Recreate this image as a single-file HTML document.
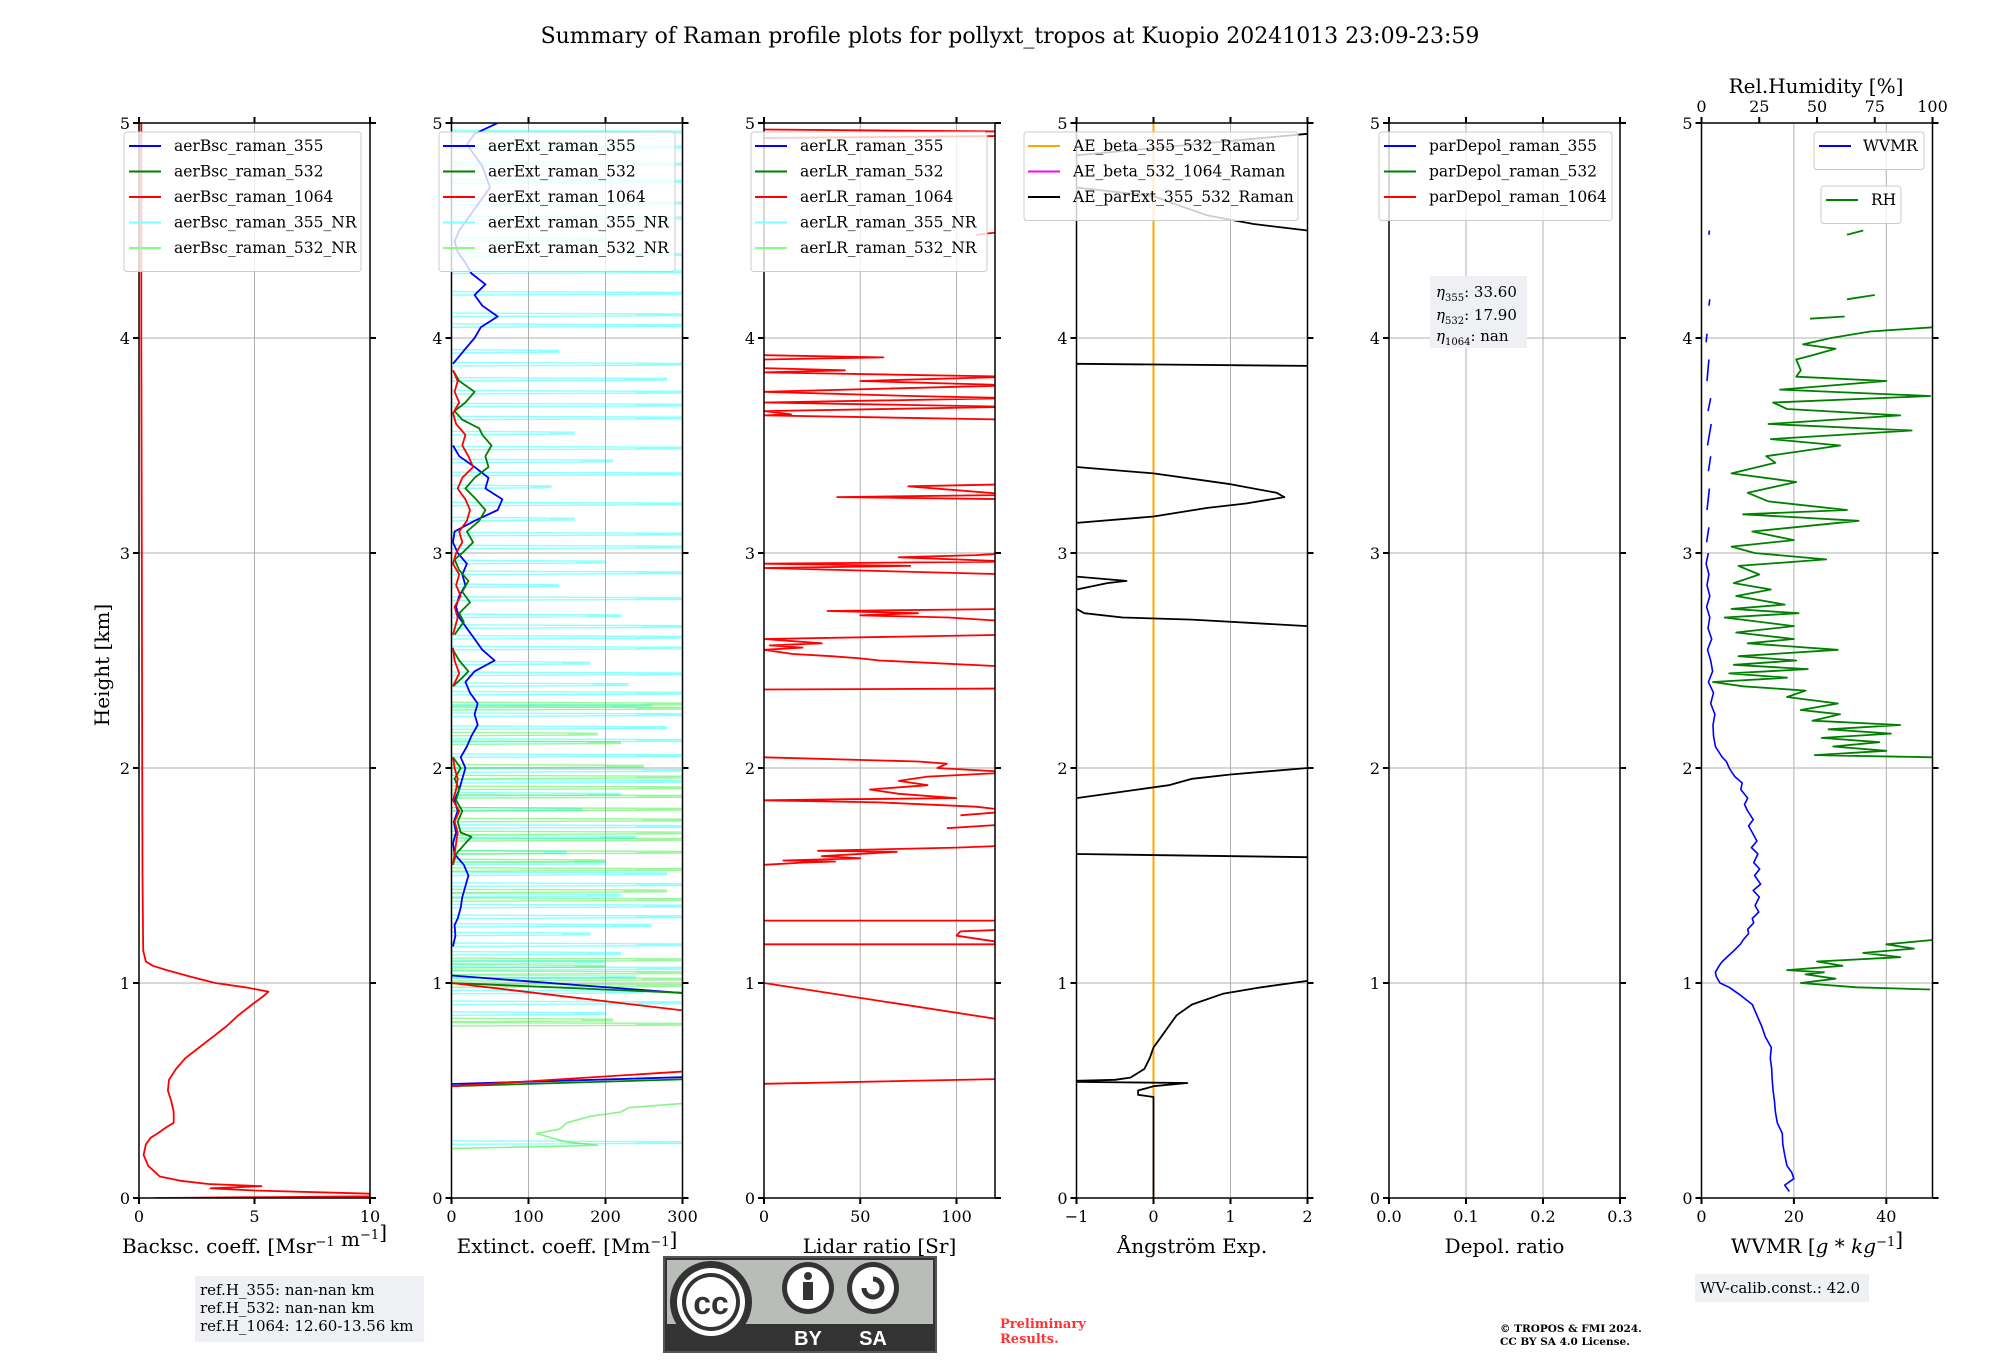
<!DOCTYPE html>
<html><head><meta charset="utf-8">
<style>
html,body{margin:0;padding:0;background:#fff;}
svg{display:block;font-family:"DejaVu Serif","Liberation Serif",serif;}
</style></head>
<body>
<svg id="fig" width="2000" height="1360" viewBox="0 0 2000 1360" xmlns="http://www.w3.org/2000/svg">
<text x="1010" y="43" font-size="22" text-anchor="middle">Summary of Raman profile plots for pollyxt_tropos at Kuopio 20241013 23:09-23:59</text>
<g id="plots"></g>
<g id="overlay"></g>
</svg>
<script>
// ---------- data ----------
const bsc1064 = [[0,0.7],[0.008,10],[0.02,10],[0.035,5],[0.045,3.1],[0.055,5.3],[0.065,3],[0.08,1.8],[0.1,0.9],[0.15,0.4],[0.2,0.2],[0.25,0.3],[0.28,0.5],[0.3,0.8],[0.33,1.2],[0.35,1.5],[0.4,1.5],[0.45,1.4],[0.5,1.25],[0.55,1.3],[0.6,1.6],[0.65,2.0],[0.7,2.6],[0.75,3.2],[0.8,3.8],[0.85,4.3],[0.9,4.9],[0.94,5.4],[0.96,5.6],[0.98,4.6],[1.0,3.3],[1.03,2.2],[1.06,1.2],[1.08,0.6],[1.1,0.3],[1.15,0.18],[1.5,0.15],[2,0.14],[3,0.12],[4,0.1],[5,0.1]];

const ext355 = [[0.53,0],[0.565,330],null,[1.035,0],[0.945,330],null,[1.17,2],[1.22,5],[1.27,4],[1.3,8],[1.35,12],[1.4,14],[1.45,18],[1.5,22],[1.55,16],[1.6,4],[1.65,2],[1.7,6],[1.75,3],[1.8,8],[1.85,4],[1.9,10],[1.95,14],[2.0,18],[2.05,12],[2.1,20],[2.15,26],[2.2,34],[2.25,30],[2.3,34],[2.35,24],[2.4,18],[2.45,30],[2.5,56],[2.55,40],[2.6,30],[2.65,20],[2.7,10],[2.75,6],[2.8,10],[2.85,18],[2.9,14],[2.95,20],[3.0,8],[3.05,2],[3.1,4],[3.15,30],[3.2,60],[3.25,66],[3.3,44],[3.35,48],[3.4,30],[3.45,10],[3.5,2],null,[3.88,2],[3.95,18],[4.0,30],[4.05,38],[4.1,60],[4.15,40],[4.2,30],[4.25,44],[4.3,26],[4.35,18],[4.4,8],[4.45,4],[4.5,10],[4.6,30],[4.7,50],[4.8,40],[4.9,20],[4.95,30],[5.0,60]];
const ext532 = [[0.52,0],[0.555,330],null,[1.0,0],[0.95,330],null,[1.55,2],[1.6,6],[1.65,18],[1.68,26],[1.7,12],[1.75,8],[1.8,14],[1.85,6],[1.9,10],[1.95,4],[2.0,12],[2.05,2],null,[2.38,2],[2.42,14],[2.45,22],[2.5,10],[2.55,2],null,[2.62,4],[2.68,16],[2.72,10],[2.77,24],[2.82,14],[2.87,22],[2.92,10],[2.97,4],[3.0,14],[3.05,28],[3.1,20],[3.15,36],[3.2,44],[3.25,32],[3.3,18],[3.35,30],[3.4,48],[3.45,44],[3.5,52],[3.55,40],[3.58,36],[3.62,14],[3.66,4],[3.7,18],[3.75,30],[3.8,10],[3.85,2]];
const ext1064 = [[0.52,0],[0.595,330],null,[1.0,0],[0.86,330],null,[1.55,2],[1.6,4],[1.65,6],[1.7,8],[1.75,4],[1.8,10],[1.85,2],[1.9,6],[1.95,8],[2.0,4],[2.05,2],null,[2.38,2],[2.44,10],[2.5,4],[2.56,2],null,[2.62,2],[2.7,8],[2.75,4],[2.8,12],[2.85,6],[2.9,10],[2.95,2],[3.0,6],[3.05,14],[3.1,10],[3.15,20],[3.2,24],[3.25,18],[3.3,8],[3.35,14],[3.4,28],[3.45,22],[3.5,14],[3.55,18],[3.6,6],[3.65,2],[3.7,10],[3.75,4],[3.8,8],[3.85,2]];
const cyanSpikeH = [0.25,0.85,0.9,0.95,1.02,1.06,1.09,1.13,1.17,1.22,1.26,1.3,1.35,1.4,1.45,1.5,1.55,1.6,1.67,1.72,1.8,1.87,1.93,1.98,2.05,2.12,2.18,2.24,2.28,2.34,2.38,2.43,2.48,2.55,2.6,2.65,2.7,2.78,2.84,2.9,2.95,3.02,3.08,3.15,3.22,3.3,3.36,3.42,3.48,3.55,3.62,3.68,3.74,3.8,3.87,3.93,4.05,4.1,4.2,4.3,4.38,4.45,4.55,4.62,4.72,4.8,4.88,4.95];
const cyanSpikeV = [300,200,300,250,240,300,200,220,300,180,260,300,310,220,300,280,200,150,240,300,170,220,300,310,300,300,280,300,260,300,230,300,180,300,300,310,220,300,140,300,200,300,300,160,300,130,300,210,300,160,300,300,300,280,300,140,300,300,300,300,300,200,300,300,300,300,300,300];
const greenSpikeH = [0.8,0.82,0.98,1.01,1.04,1.07,1.1,1.38,1.42,1.52,1.56,1.6,1.66,1.69,1.75,1.8,1.86,1.9,1.95,2.0,2.11,2.15,2.27,2.29];
const greenSpikeV = [300,210,300,310,300,200,300,300,280,300,200,300,300,300,310,300,300,300,300,250,220,190,300,310];
const ext532nr = [[0.23,0],[0.245,190],[0.26,150],[0.28,130],[0.3,110],[0.32,140],[0.35,150],[0.38,180],[0.4,220],[0.42,230],[0.44,300]];

const lr1064 = [[0.53,-5],[0.555,130],null,[1.0,0],[0.82,130],null,[1.18,-5],[1.18,130],[1.22,100],[1.24,102],[1.25,130],null,[1.29,-5],[1.29,130],null,[1.55,0],[1.56,20],[1.565,37],[1.57,10],[1.58,50],[1.59,30],[1.61,69],[1.615,28],[1.63,100],[1.64,130],null,[1.72,95],[1.74,130],null,[1.78,102],[1.8,130],[1.82,110],[1.84,60],[1.85,0],[1.855,45],[1.86,100],[1.88,70],[1.9,55],[1.92,85],[1.94,70],[1.96,85],[1.98,130],[2.0,90],[2.02,95],[2.03,80],[2.05,0],null,[2.365,0],[2.37,130],null,[2.47,130],[2.5,60],[2.51,50],[2.52,35],[2.53,15],[2.55,0],[2.56,20],[2.57,3],[2.58,30],[2.6,0],[2.62,130],null,[2.68,130],[2.7,96],[2.71,50],[2.72,80],[2.73,33],[2.74,130],null,[2.9,130],[2.93,0],[2.94,76],[2.95,0],[2.96,130],[2.98,70],[2.99,110],[3.0,130],null,[3.25,130],[3.26,38],[3.27,130],[3.31,75],[3.32,130],null,[3.62,130],[3.64,0],[3.645,14],[3.66,0],[3.68,130],[3.7,0],[3.72,130],[3.73,77],[3.75,0],[3.78,130],[3.8,50],[3.82,130],[3.84,0],[3.85,42],[3.86,0],[3.9,0],[3.91,62],[3.92,0],null,[4.48,110],[4.5,130],null,[4.93,0],[4.94,130],[4.96,130],[4.97,0]];

const aeParExt = [[0,0],[0.47,0],[0.48,-0.2],[0.5,-0.2],[0.52,0],[0.535,0.44],[0.54,-1],null,[0.545,-1],[0.55,-0.5],[0.56,-0.3],[0.6,-0.12],[0.65,-0.05],[0.7,0],[0.75,0.1],[0.8,0.2],[0.85,0.3],[0.9,0.5],[0.95,0.9],[0.98,1.4],[1.01,2.0],null,[1.6,-1],[1.585,2],null,[1.86,-1],[1.9,-0.2],[1.92,0.2],[1.95,0.5],[1.97,1],[2.0,2],null,[2.74,-1],[2.72,-0.9],[2.7,-0.4],[2.69,0.5],[2.66,2],null,[2.83,-1],[2.86,-0.6],[2.87,-0.35],[2.89,-1],null,[3.14,-1],[3.17,0],[3.21,0.7],[3.23,1.2],[3.26,1.7],[3.28,1.6],[3.32,1.0],[3.37,0],[3.4,-1],null,[3.88,-1],[3.87,2],null,[4.5,2],[4.53,1.3],[4.57,0.7],[4.62,0.3],[4.66,0],[4.7,-1],null,[4.85,-1],[4.95,2]];

const wvmr = [[0.03,19],[0.06,18],[0.09,20],[0.12,19.5],[0.15,18.5],[0.2,18],[0.25,17.6],[0.3,17.5],[0.35,16.4],[0.4,16],[0.45,15.8],[0.5,15.5],[0.55,15.3],[0.6,15.2],[0.65,14.9],[0.7,15.1],[0.75,13.8],[0.8,13],[0.85,12],[0.9,11],[0.95,8],[0.98,6],[1.0,4],[1.03,3.2],[1.05,3],[1.08,3.8],[1.1,4.5],[1.13,6],[1.15,7],[1.18,8.4],[1.2,9],[1.23,10.2],[1.25,10],[1.28,11.3],[1.3,11],[1.33,12.4],[1.36,11.6],[1.4,12.5],[1.43,11.2],[1.46,12.8],[1.5,11.5],[1.53,12.6],[1.56,11.3],[1.6,12.2],[1.63,10.8],[1.66,12],[1.7,11],[1.73,10.2],[1.76,11.2],[1.8,10],[1.83,9.3],[1.86,10],[1.9,8.5],[1.93,8.8],[1.96,7.2],[2.0,6],[2.03,5.4],[2.05,4.5],[2.08,3.6],[2.1,3],[2.15,2.6],[2.2,2.5],[2.25,2.9],[2.3,2],[2.35,2.6],[2.4,1.5],[2.45,2.4],[2.5,2],[2.55,1.3],[2.6,2.2],[2.65,1.4],[2.7,1.8],[2.75,1.1],[2.8,1.8],[2.85,1.2],[2.9,1.6],[2.95,1],[3.0,1.5],null,[3.05,1.1],[3.12,1.6],null,[3.2,1.2],[3.3,1.7],null,[3.38,1.5],[3.45,2],null,[3.5,1.3],[3.6,2.1],null,[3.66,1.4],[3.72,2],null,[3.8,1.2],[3.9,1.6],null,[3.98,1],[4.02,1.2],null,[4.15,1.6],[4.18,1.8],null,[4.48,1.6],[4.5,1.7]];
const rh = [[0.97,99],[0.98,67],[1.0,43],[1.02,58],[1.04,45],[1.05,53],[1.06,37],[1.08,61],[1.1,50],[1.12,86],[1.14,70],[1.16,92],[1.18,80],[1.2,100],null,[2.05,100],[2.06,49],[2.08,80],[2.1,57],[2.12,77],[2.14,52],[2.16,82],[2.18,55],[2.2,86],[2.22,48],[2.25,60],[2.27,43],[2.3,59],[2.33,37],[2.36,45],[2.38,18],[2.4,5],[2.42,37],[2.44,12],[2.46,46],[2.48,14],[2.5,41],[2.52,16],[2.55,59],[2.58,20],[2.6,40],[2.63,15],[2.66,40],[2.7,10],[2.72,42],[2.74,13],[2.76,36],[2.8,15],[2.83,30],[2.86,14],[2.9,25],[2.94,16],[2.97,54],[3.0,23],[3.03,13],[3.06,40],[3.1,22],[3.15,68],[3.18,18],[3.2,63],[3.24,29],[3.28,20],[3.33,41],[3.37,13],[3.42,32],[3.45,28],[3.5,60],[3.53,30],[3.57,91],[3.6,29],[3.64,86],[3.67,37],[3.7,31],[3.73,99],[3.76,34],[3.8,80],[3.82,41],[3.85,43],[3.9,41],[3.92,48],[3.95,58],[3.97,44],[4.0,56],[4.03,73],[4.05,100],null,[4.09,47],[4.1,62],null,[4.18,63],[4.2,75],null,[4.48,63],[4.5,70]];

const heightTicks = [0,1,2,3,4,5];
const bscTicks = [0,5,10], extTicks = [0,100,200,300], lrTicks = [0,50,100];
const aeTicks = [-1,0,1,2], aeTickLabels = ['\u22121','0','1','2'];
const depTicks = [0,0.1,0.2,0.3], depTickLabels = ['0.0','0.1','0.2','0.3'];
const wvTicks = [0,20,40], rhTicks = [0,25,50,75,100];

// ---------- layout ----------
const NS='http://www.w3.org/2000/svg';
const TOP=123, BOT=1198, W=231, HMAX=5;
const plots=document.getElementById('plots');
function el(tag,attrs,parent,txt){const e=document.createElementNS(NS,tag);for(const k in attrs)e.setAttribute(k,attrs[k]);if(txt!==undefined)e.textContent=txt;(parent||plots).appendChild(e);return e;}
function yS(h){return BOT-(h/HMAX)*(BOT-TOP);}
const panels=[
 {name:'backscatter',min:0,max:10,ticks:bscTicks,labels:bscTicks.map(String),xl:['Backsc. coeff. [Msr',{sup:'\u22121'},' m',{sup:'\u22121'},']']},
 {name:'extinction',min:0,max:300,ticks:extTicks,labels:extTicks.map(String),xl:['Extinct. coeff. [Mm',{sup:'\u22121'},']']},
 {name:'lidar-ratio',min:0,max:120,ticks:lrTicks,labels:lrTicks.map(String),xl:['Lidar ratio [Sr]']},
 {name:'angstrom',min:-1,max:2,ticks:aeTicks,labels:aeTickLabels,xl:['\u00c5ngstr\u00f6m Exp.']},
 {name:'depol',min:0,max:0.3,ticks:depTicks,labels:depTickLabels,xl:['Depol. ratio']},
 {name:'wvmr',min:0,max:50,ticks:wvTicks,labels:wvTicks.map(String),xl:['WVMR [',{it:'g'},' * ',{it:'kg'},{sup:'\u22121'},']']}
];
panels.forEach((p,i)=>{p.L=139+312.5*i;p.x=v=>p.L+(v-p.min)/(p.max-p.min)*W;});

panels.forEach((p,i)=>{
 const g=el('g',{});
 
 
 el('clipPath',{id:'clip'+i},g).appendChild((()=>{const r=document.createElementNS(NS,'rect');r.setAttribute('x',p.L);r.setAttribute('y',TOP);r.setAttribute('width',W);r.setAttribute('height',BOT-TOP);return r;})());
 p.g=g;
 p.ticks.forEach(t=>{const gl=el('line',{x1:p.x(t),x2:p.x(t),y1:TOP,y2:BOT,stroke:'#b0b0b0','stroke-width':1},g);});
 heightTicks.forEach(t=>{const gl=el('line',{x1:p.L,x2:p.L+W,y1:yS(t),y2:yS(t),stroke:'#b0b0b0','stroke-width':1},g);});
 p.plot=el('g',{'clip-path':'url(#clip'+i+')'},g);
});

function path(p,data,color,width,opacity,name){
 let d='',pen=false;
 data.forEach(pt=>{if(pt===null){pen=false;return;}d+=(pen?'L':'M')+p.x(pt[1]).toFixed(1)+' '+yS(pt[0]).toFixed(1);pen=true;});
 const e=el('path',{d:d,fill:'none',stroke:color,'stroke-width':width,'stroke-opacity':opacity,'stroke-linejoin':'round'},p.plot);
 
 
}
function spikes(p,hs,vs,color,name){
 let d='';
 hs.forEach((h,k)=>{d+='M'+p.x(0)+' '+yS(h).toFixed(1)+'L'+p.x(vs[k]).toFixed(1)+' '+yS(h+0.004).toFixed(1)+'L'+p.x(vs[k]*0.8).toFixed(1)+' '+yS(h+0.008).toFixed(1)+'L'+p.x(vs[k]).toFixed(1)+' '+yS(h+0.012).toFixed(1)+'L'+p.x(0)+' '+yS(h+0.016).toFixed(1);});
 const e=el('path',{d:d,fill:'none',stroke:color,'stroke-width':1.4,'stroke-opacity':0.45},p.plot);
 
 
}
path(panels[0],bsc1064,'#ff0000',1.8,1,'aerBsc-1064-line');
spikes(panels[1],cyanSpikeH,cyanSpikeV,'#00ffff','aerExt-355-NR-line');
spikes(panels[1],greenSpikeH,greenSpikeV,'#22ee22','aerExt-532-NR-line');
path(panels[1],ext532nr,'#22ee22',1.6,0.55,'aerExt-532-NR-curve');
path(panels[1],ext355,'#0000ff',1.8,1,'aerExt-355-line');
path(panels[1],ext532,'#008000',1.8,1,'aerExt-532-line');
path(panels[1],ext1064,'#ff0000',1.8,1,'aerExt-1064-line');
path(panels[2],lr1064,'#ff0000',1.8,1,'aerLR-1064-line');
(()=>{const p=panels[3];const e=el('line',{x1:p.x(0),x2:p.x(0),y1:TOP,y2:BOT,stroke:'#ffa500','stroke-width':2},p.plot);})();
path(panels[3],aeParExt,'#000000',1.8,1,'AE-parExt-355-532-line');
path(panels[5],wvmr,'#0000ff',1.6,1,'wvmr-line');
const rhPanel={L:panels[5].L,plot:panels[5].plot,x:v=>panels[5].L+v/100*W};
path(rhPanel,rh,'#008000',1.8,1,'rh-line');

panels.forEach((p,i)=>{
 const g=p.g;
 const fr=el('rect',{x:p.L,y:TOP,width:W,height:BOT-TOP,fill:'none',stroke:'#000','stroke-width':1.5},g);
 
 heightTicks.forEach(t=>{
  el('line',{x1:p.L-6,x2:p.L,y1:yS(t),y2:yS(t),stroke:'#000','stroke-width':2},g);
  el('line',{x1:p.L+W,x2:p.L+W+6,y1:yS(t),y2:yS(t),stroke:'#000','stroke-width':2},g);
  const tl=el('text',{x:p.L-9,y:yS(t)+6,'font-size':16,'text-anchor':'end'},g,String(t));
  
 });
 p.ticks.forEach((t,k)=>{
  el('line',{x1:p.x(t),x2:p.x(t),y1:BOT,y2:BOT+6,stroke:'#000','stroke-width':2},g);
  if(i<5) el('line',{x1:p.x(t),x2:p.x(t),y1:TOP-6,y2:TOP,stroke:'#000','stroke-width':2},g);
  const tl=el('text',{x:p.x(t),y:BOT+24,'font-size':16,'text-anchor':'middle'},g,p.labels[k]);
  
 });
 const xl=el('text',{x:p.L+W/2,y:1253,'font-size':20,'text-anchor':'middle'},g);
 
 p.xl.forEach(part=>{
  const ts=document.createElementNS(NS,'tspan');
  if(typeof part==='string'){ts.textContent=part;}
  else if(part.sup){ts.textContent=part.sup;ts.setAttribute('dy','-7');ts.setAttribute('font-size','13');}
  else if(part.it){ts.textContent=part.it;ts.setAttribute('font-style','italic');}
  xl.appendChild(ts);
  if(part.sup){const r=document.createElementNS(NS,'tspan');r.setAttribute('dy','7');r.textContent='';xl.appendChild(r);}
 });
});
rhTicks.forEach(t=>{
 const x=panels[5].L+t/100*W;
 el('line',{x1:x,x2:x,y1:TOP-6,y2:TOP,stroke:'#000','stroke-width':2});
 const tl=el('text',{x:x,y:112,'font-size':16,'text-anchor':'middle'},plots,String(t));
 
});
(()=>{const t=el('text',{x:1816,y:93,'font-size':20,'text-anchor':'middle'},plots,'Rel.Humidity [%]');})();
(()=>{const t=el('text',{x:0,y:0,'font-size':20,'text-anchor':'middle',transform:'translate(109,665) rotate(-90)'},plots,'Height [km]');})();

function legend(x0,y0,w,entries,name,tx,lx){
 const g=el('g',{});
 
 
 el('rect',{x:x0,y:y0,width:w,height:entries.length*25.5+12,rx:3,fill:'#fff','fill-opacity':0.8,stroke:'#cccccc','stroke-width':1},g);
 entries.forEach((e,k)=>{
  const y=y0+14+k*25.5;
  el('line',{x1:lx,x2:lx+32,y1:y,y2:y,stroke:e[1],'stroke-width':2},g);
  const t=el('text',{x:tx,y:y+5,'font-size':15.5},g,e[0]);
  
 });
}
const leg5=(pre)=>[[pre+'_355','#0000ff'],[pre+'_532','#008000'],[pre+'_1064','#ff0000'],[pre+'_355_NR','#80ffff'],[pre+'_532_NR','#80ff80']];
legend(124,132,237,leg5('aerBsc_raman'),'legend-backscatter',174,129);
legend(439,132,236,leg5('aerExt_raman'),'legend-extinction',488,443);
legend(751,132,236,leg5('aerLR_raman'),'legend-lidar-ratio',800,755);
legend(1024,132,274,[['AE_beta_355_532_Raman','#ffa500'],['AE_beta_532_1064_Raman','#ff00ff'],['AE_parExt_355_532_Raman','#000000']],'legend-angstrom',1073,1028);
legend(1379,132,233,[['parDepol_raman_355','#0000ff'],['parDepol_raman_532','#008000'],['parDepol_raman_1064','#ff0000']],'legend-depol',1429,1384);
legend(1814,132,110,[['WVMR','#0000ff']],'legend-wvmr',1863,1819);
legend(1821,186,80,[['RH','#008000']],'legend-rh',1871,1826);
</script>
<svg x="0" y="0" width="2000" height="1360" style="position:absolute;left:0;top:0" xmlns="http://www.w3.org/2000/svg" font-family="DejaVu Serif, Liberation Serif, serif">
<g>
<rect x="1430" y="276" width="97" height="72" fill="#eef0f4"/>
<text x="1436" y="297" font-size="15"><tspan font-style="italic">η</tspan><tspan font-size="10" dy="4">355</tspan><tspan dy="-4">: 33.60</tspan></text>
<text x="1436" y="320" font-size="15"><tspan font-style="italic">η</tspan><tspan font-size="10" dy="4">532</tspan><tspan dy="-4">: 17.90</tspan></text>
<text x="1436" y="341" font-size="15"><tspan font-style="italic">η</tspan><tspan font-size="10" dy="4">1064</tspan><tspan dy="-4">: nan</tspan></text>
</g>
<g>
<rect x="195" y="1276" width="229" height="66" fill="#eef0f4"/>
<text x="200" y="1295" font-size="15">ref.H_355: nan-nan km</text>
<text x="200" y="1313" font-size="15">ref.H_532: nan-nan km</text>
<text x="200" y="1331" font-size="15">ref.H_1064: 12.60-13.56 km</text>
</g>
<g>
<rect x="664" y="1257" width="272" height="95" fill="#333" stroke="#555" stroke-width="2"/>
<rect x="667" y="1260" width="266" height="64" fill="#b9bdb8"/>
<circle cx="711" cy="1302" r="41" fill="#333"/>
<circle cx="711" cy="1302" r="34" fill="#fff"/>
<circle cx="711" cy="1302" r="29" fill="#333"/>
<circle cx="711" cy="1302" r="25" fill="#fff"/>
<text x="711" y="1314" font-family="Liberation Sans, sans-serif" font-size="32" font-weight="bold" text-anchor="middle" fill="#333">cc</text>
<circle cx="808" cy="1288" r="26" fill="#333"/>
<circle cx="808" cy="1288" r="21" fill="#fff"/>
<circle cx="808" cy="1276" r="4" fill="#333"/>
<rect x="803" y="1282" width="10" height="18" fill="#333"/>
<circle cx="873" cy="1288" r="26" fill="#333"/>
<circle cx="873" cy="1288" r="21" fill="#fff"/>
<path d="M864 1288 a9 9 0 1 0 9 -9" fill="none" stroke="#333" stroke-width="5"/>
<text x="808" y="1345" font-family="Liberation Sans, sans-serif" font-size="20" font-weight="bold" text-anchor="middle" fill="#fff">BY</text>
<text x="873" y="1345" font-family="Liberation Sans, sans-serif" font-size="20" font-weight="bold" text-anchor="middle" fill="#fff">SA</text>
</g>
<text x="1000" y="1328" font-size="13" font-weight="bold" fill="#ff3333">Preliminary</text>
<text x="1000" y="1343" font-size="13" font-weight="bold" fill="#ff3333">Results.</text>
<text x="1500" y="1332" font-size="10.5" font-weight="bold">© TROPOS &amp; FMI 2024.</text>
<text x="1500" y="1345" font-size="10.5" font-weight="bold">CC BY SA 4.0 License.</text>
<g>
<rect x="1695" y="1274" width="174" height="28" fill="#eef0f4"/>
<text x="1700" y="1293" font-size="15">WV-calib.const.: 42.0</text>
</g>
</svg>
</body></html>
